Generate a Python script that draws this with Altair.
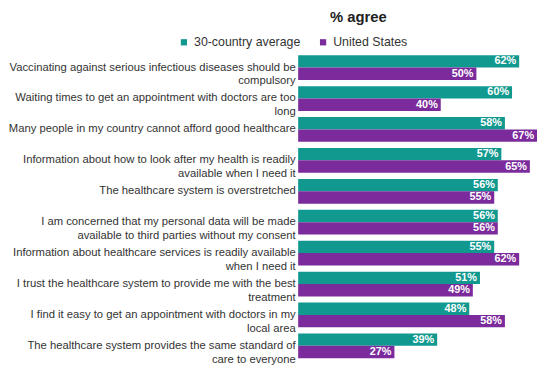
import altair as alt
import pandas as pd

statements = [
    "Vaccinating against serious infectious diseases should be|compulsory",
    "Waiting times to get an appointment with doctors are too|long",
    "Many people in my country cannot afford good healthcare",
    "Information about how to look after my health is readily|available when I need it",
    "The healthcare system is overstretched",
    "I am concerned that my personal data will be made|available to third parties without my consent",
    "Information about healthcare services is readily available|when I need it",
    "I trust the healthcare system to provide me with the best|treatment",
    "I find it easy to get an appointment with doctors in my|local area",
    "The healthcare system provides the same standard of|care to everyone",
]
avg30 = [62, 60, 58, 57, 56, 56, 55, 51, 48, 39]
us = [50, 40, 67, 65, 55, 56, 62, 49, 58, 27]
series = ["30-country average", "United States"]
colors = ["#12998f", "#7b2b9c"]

rows = []
for s, a, u in zip(statements, avg30, us):
    rows.append({"statement": s, "series": series[0], "value": a, "label": f"{a}%"})
    rows.append({"statement": s, "series": series[1], "value": u, "label": f"{u}%"})
df = pd.DataFrame(rows)

y = alt.Y("statement:N", sort=statements, title=None,
          scale=alt.Scale(paddingInner=0.2, paddingOuter=0.08),
          axis=alt.Axis(labelExpr="split(datum.label, '|')", labelFontSize=11.4,
                        labelColor="#333333", labelFont="Liberation Sans",
                        labelLineHeight=14, ticks=False, domain=False,
                        labelPadding=3, labelLimit=600))
x = alt.X("value:Q", scale=alt.Scale(domain=[0, 67]), axis=None)
yoff = alt.YOffset("series:N", sort=series)

bars = alt.Chart(df).mark_bar().encode(
    y=y, x=x, yOffset=yoff,
    color=alt.Color("series:N", sort=series,
                    scale=alt.Scale(domain=series, range=colors),
                    legend=alt.Legend(title=None, orient="none", direction="horizontal",
                                      legendX=-122, legendY=-17, symbolType="square",
                                      symbolSize=40, labelFontSize=12.5,
                                      labelFont="Liberation Sans", labelColor="#333333",
                                      columnPadding=16, symbolOffset=0)),
)
text = alt.Chart(df).mark_text(align="right", dx=-3, color="white", fontWeight="bold",
                               fontSize=11, font="Liberation Sans").encode(
    y=y, x=x, yOffset=yoff, text="label:N")

chart = (bars + text).properties(
    width=242, height=312, padding={"left": 0, "top": 0, "right": 0, "bottom": 0},
    title=alt.TitleParams("% agree", fontSize=15, fontWeight="bold",
                          font="Liberation Sans", color="#222222",
                          anchor="middle", dx=-60, offset=11),
).configure_view(stroke=None)

chart.save("out.html", embed_options={"renderer": "svg", "actions": False})
